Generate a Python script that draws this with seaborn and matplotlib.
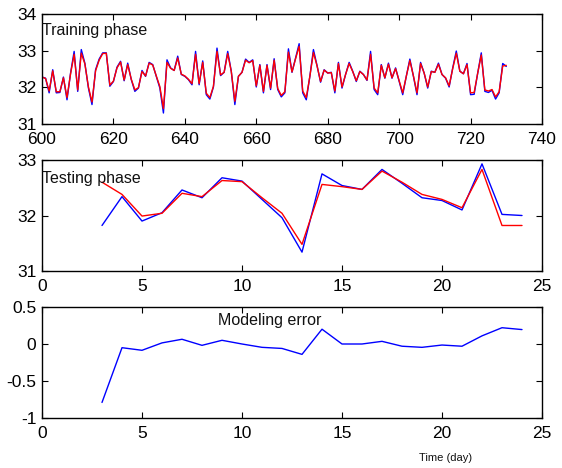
import numpy as np
import pandas as pd
import matplotlib
matplotlib.use("Agg")
import matplotlib.pyplot as plt
import seaborn as sns

# ---------------- data ----------------
train_start = 600
train_measured = [
    32.28, 32.25, 31.85, 32.48, 31.85, 31.86, 32.28, 31.66, 32.39, 32.98,
    31.89, 33.03, 32.66, 31.98, 31.53, 32.48, 32.77, 32.94, 32.94, 32.03,
    32.16, 32.55, 32.71, 32.18, 32.66, 32.21, 31.89, 31.98, 32.46, 32.30,
    32.68, 32.62, 32.30, 31.98, 31.30, 32.75, 32.53, 32.46, 32.85, 32.35,
    32.30, 32.21, 32.07, 32.98, 32.07, 32.72, 31.80, 31.68, 32.01, 33.07,
    32.32, 32.41, 32.98, 32.44, 31.53, 32.30, 32.41, 32.77, 32.68, 32.75,
    32.01, 32.62, 31.85, 32.62, 31.94, 32.78, 31.94, 31.74, 31.85, 33.05,
    32.41, 32.80, 33.19, 31.85, 31.66, 32.30, 33.03, 32.60, 32.14, 32.48,
    32.39, 32.41, 31.85, 32.68, 31.98, 32.35, 32.68, 32.44, 32.16, 32.44,
    32.35, 32.19, 32.98, 31.94, 31.80, 32.62, 32.25, 32.66, 32.25, 32.53,
    32.16, 31.80, 32.30, 32.77, 32.30, 31.80, 32.68, 32.39, 31.98, 32.44,
    32.41, 32.66, 32.35, 32.25, 32.01, 32.53, 32.99, 32.44, 32.37, 32.65,
    31.80, 31.81, 32.39, 32.94, 31.89, 31.86, 31.92, 31.68, 31.85, 32.65,
    32.57,
]
train_model = [
    32.28, 32.24, 31.90, 32.45, 31.88, 31.88, 32.26, 31.72, 32.37, 32.90,
    31.93, 32.93, 32.64, 32.01, 31.60, 32.45, 32.74, 32.92, 32.93, 32.06,
    32.17, 32.53, 32.69, 32.20, 32.62, 32.22, 31.93, 31.99, 32.43, 32.31,
    32.66, 32.61, 32.31, 32.02, 31.42, 32.68, 32.52, 32.46, 32.80, 32.36,
    32.31, 32.22, 32.10, 32.90, 32.10, 32.68, 31.84, 31.72, 32.03, 32.98,
    32.34, 32.41, 32.92, 32.43, 31.62, 32.30, 32.41, 32.74, 32.67, 32.73,
    32.04, 32.60, 31.89, 32.60, 31.98, 32.74, 31.97, 31.78, 31.88, 32.96,
    32.42, 32.78, 33.12, 31.90, 31.72, 32.30, 32.95, 32.59, 32.16, 32.47,
    32.39, 32.40, 31.90, 32.65, 32.01, 32.35, 32.65, 32.43, 32.18, 32.43,
    32.35, 32.20, 32.90, 31.98, 31.85, 32.60, 32.26, 32.63, 32.26, 32.51,
    32.18, 31.85, 32.30, 32.73, 32.31, 31.85, 32.65, 32.39, 32.01, 32.43,
    32.41, 32.63, 32.35, 32.26, 32.04, 32.51, 32.93, 32.44, 32.37, 32.62,
    31.85, 31.86, 32.39, 32.88, 31.93, 31.90, 31.94, 31.74, 31.88, 32.58,
    32.60,
]

test_days = [3, 4, 5, 6, 7, 8, 9, 10, 11, 12, 13, 14, 15, 16, 17, 18, 19, 20, 21, 22, 23, 24]
test_measured = [31.82, 32.34, 31.90, 32.05, 32.46, 32.32, 32.68, 32.62, 32.29, 31.96, 31.34,
                 32.75, 32.54, 32.47, 32.83, 32.58, 32.32, 32.27, 32.10, 32.93, 32.02, 32.00]
test_model = [32.60, 32.38, 31.99, 32.04, 32.40, 32.34, 32.63, 32.61, 32.32, 32.04, 31.48,
              32.56, 32.52, 32.47, 32.80, 32.60, 32.38, 32.29, 32.14, 32.83, 31.82, 31.82]
model_error = [-0.79, -0.05, -0.085, 0.015, 0.064, -0.018, 0.05, 0.0, -0.045, -0.06, -0.14,
               0.20, 0.0, 0.0, 0.036, -0.03, -0.045, -0.014, -0.03, 0.11, 0.22, 0.195]

train_xticks = [600, 620, 640, 660, 680, 700, 720, 740]
train_yticks = [31, 32, 33, 34]
test_xticks = [0, 5, 10, 15, 20, 25]
test_yticks = [31, 32, 33]
err_yticks = [-1, -0.5, 0, 0.5]
err_yticklabels = ["-1", "-0.5", "0", "0.5"]

# ---------------- style ----------------
sns.set_style("ticks")
plt.rcParams['font.family'] = ['Liberation Sans', 'DejaVu Sans']

W, H = 562, 468
fig = plt.figure(figsize=(W / 100, H / 100), dpi=100)

def ax_at(left, top, right, bottom):
    return fig.add_axes([left / W, 1 - bottom / H, (right - left) / W, (bottom - top) / H])

ax1 = ax_at(42, 14, 542, 124)
ax2 = ax_at(42, 160, 542, 271)
ax3 = ax_at(42, 307, 542, 418)

train_x = np.arange(train_start, train_start + len(train_measured))
df_train = pd.DataFrame({"t": train_x, "measured": train_measured, "model": train_model})
df_test = pd.DataFrame({"t": test_days, "measured": test_measured, "model": test_model,
                        "err": model_error})

lw = 1.0
sns.lineplot(data=df_train, x="t", y="measured", ax=ax1, color="blue", linewidth=lw)
sns.lineplot(data=df_train, x="t", y="model", ax=ax1, color="red", linewidth=lw)
sns.lineplot(data=df_test, x="t", y="measured", ax=ax2, color="blue", linewidth=lw)
sns.lineplot(data=df_test, x="t", y="model", ax=ax2, color="red", linewidth=lw)
sns.lineplot(data=df_test, x="t", y="err", ax=ax3, color="blue", linewidth=lw)

ax1.set_xlim(600, 740)
ax1.set_ylim(31, 34)
ax1.set_xticks(train_xticks)
ax1.set_yticks(train_yticks)

ax2.set_xlim(0, 25)
ax2.set_ylim(31, 33)
ax2.set_xticks(test_xticks)
ax2.set_yticks(test_yticks)

ax3.set_xlim(0, 25)
ax3.set_ylim(-1, 0.5)
ax3.set_xticks(test_xticks)
ax3.set_yticks(err_yticks)
ax3.set_yticklabels(err_yticklabels)

for ax in (ax1, ax2, ax3):
    ax.set_xlabel("")
    ax.set_ylabel("")
    for s in ax.spines.values():
        s.set_visible(True)
        s.set_linewidth(1.0)
        s.set_color("black")
    ax.tick_params(direction="in", top=True, right=True, labelsize=12.5,
                   length=4, width=0.8, colors="black")
    ax.tick_params(axis="x", pad=6)
    ax.tick_params(axis="y", pad=4)

ax1.text(0.0, 0.85, "Training phase", transform=ax1.transAxes, fontsize=11.5,
         ha="left", va="center", color="#111111")
ax2.text(0.0, 0.83, "Testing phase", transform=ax2.transAxes, fontsize=11.5,
         ha="left", va="center", color="#111111")
ax3.text(0.352, 0.874, "Modeling error", transform=ax3.transAxes, fontsize=11.5,
         ha="left", va="center", color="#111111")
fig.text(446 / W, 1 - 458 / H, "Time (day)", fontsize=8, ha="center", va="center",
         color="#111111")

fig.savefig("out.png", dpi=100, facecolor="white")
